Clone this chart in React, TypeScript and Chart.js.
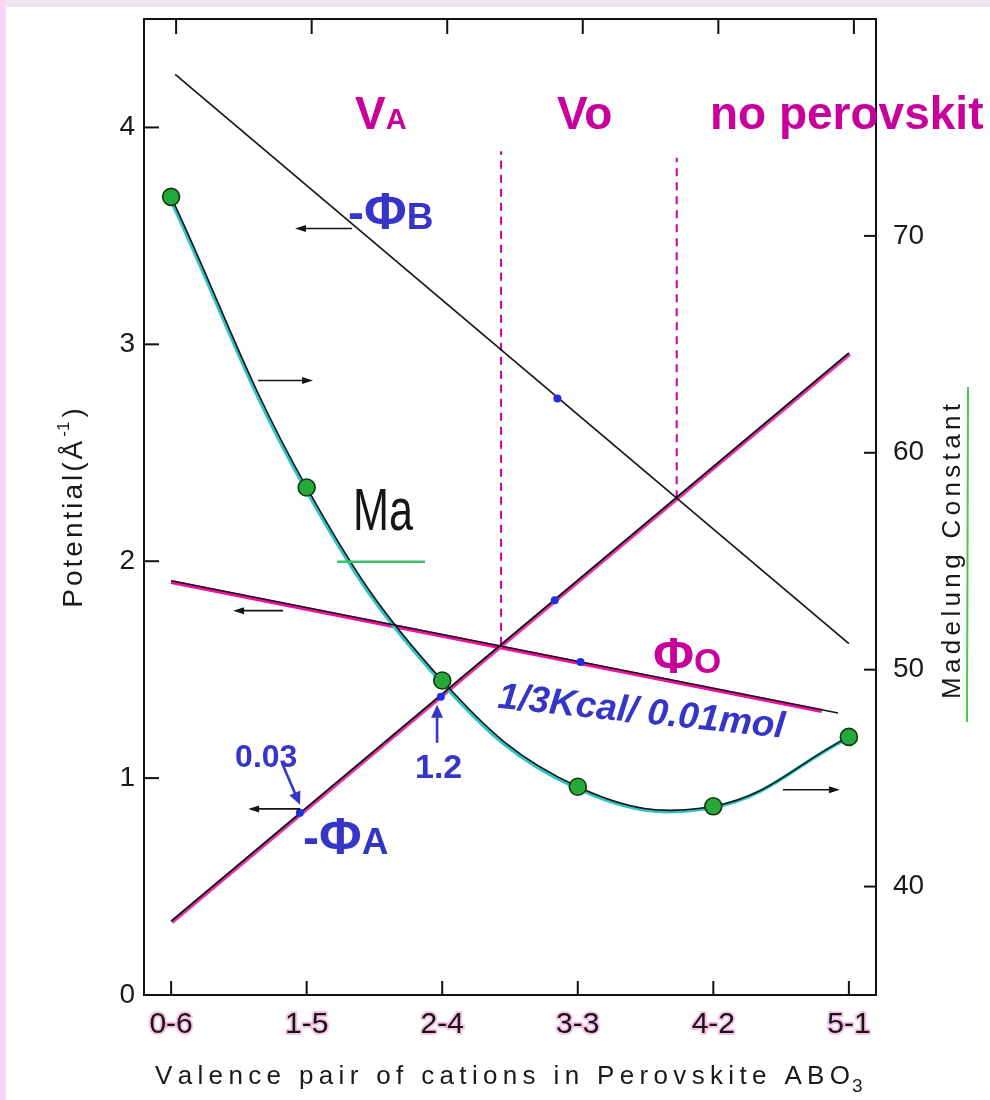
import { useEffect, useRef } from 'react';
import { Chart, registerables } from 'chart.js';

Chart.register(...registerables);

// ---------- data ----------
const categories = ['0-6', '1-5', '2-4', '3-3', '4-2', '5-1'];
const categoryIndex = [0, 1, 2, 3, 4, 5];
const madelungValues = [71.8, 58.4, 49.5, 44.6, 43.7, 46.9];
const leftTicks = [0, 1, 2, 3, 4];
const rightTicks = [40, 50, 60, 70];

const phiBX = [0.03, 5.0];
const phiBY = [4.245, 1.62];
const phiAX = [0, 5.0];
const phiAY = [0.34, 2.96];
const phiOX = [0, 4.92];
const phiOY = [1.91, 1.3];
const phiOPinkX = [0, 4.8];
const phiOPinkY = [1.91, 1.315];

const blueDotX = [0.95, 1.99, 2.83, 2.85, 3.02];
const blueDotY = [0.84, 1.375, 1.82, 2.75, 1.535];

const boundary1X = [2.434, 2.434];
const boundary1Y = [1.615, 3.89];
const boundary2X = [3.73, 3.73];
const boundary2Y = [2.29, 3.86];

// annotation arrows (data units of x / left axis)
const axisArrows = [
  { from: [1.335, 3.534], to: [0.914, 3.534] },
  { from: [0.642, 2.833], to: [1.047, 2.833] },
  { from: [0.826, 1.772], to: [0.457, 1.772] },
  { from: [0.951, 0.858], to: [0.568, 0.858] },
  { from: [4.513, 0.946], to: [4.934, 0.946] },
];
const blueArrows = [
  { from: [0.818, 1.07], to: [0.951, 0.877] },
  { from: [1.962, 1.163], to: [1.962, 1.338] },
];

const MAGENTA = '#c8009c';
const BLUE = '#3535c8';
const SANS = '"Liberation Sans", Arial, sans-serif';

const zip = (xs: number[], ys: number[]) => xs.map((x, i) => ({ x, y: ys[i] }));

type Seg = { text: string; font: string; dy?: number };

function drawSegments(ctx: CanvasRenderingContext2D, segs: Seg[], x: number, y: number, color: string) {
  ctx.fillStyle = color;
  ctx.textBaseline = 'alphabetic';
  ctx.textAlign = 'left';
  let cx = x;
  for (const s of segs) {
    ctx.font = s.font;
    ctx.fillText(s.text, cx, y + (s.dy || 0));
    cx += ctx.measureText(s.text).width;
  }
}

function spacedWidth(ctx: CanvasRenderingContext2D, text: string, sp: number) {
  let w = 0;
  for (const ch of text) w += ctx.measureText(ch).width + sp;
  return w - sp;
}

function drawSpaced(ctx: CanvasRenderingContext2D, text: string, x: number, y: number, sp: number) {
  let cx = x;
  for (const ch of text) {
    ctx.fillText(ch, cx, y);
    cx += ctx.measureText(ch).width + sp;
  }
  return cx;
}

function arrow(ctx: CanvasRenderingContext2D, x1: number, y1: number, x2: number, y2: number, color: string, lw: number, hl: number, hw: number) {
  const ang = Math.atan2(y2 - y1, x2 - x1);
  ctx.strokeStyle = color;
  ctx.fillStyle = color;
  ctx.lineWidth = lw;
  ctx.beginPath();
  ctx.moveTo(x1, y1);
  ctx.lineTo(x2 - Math.cos(ang) * hl * 0.7, y2 - Math.sin(ang) * hl * 0.7);
  ctx.stroke();
  ctx.beginPath();
  ctx.moveTo(x2, y2);
  ctx.lineTo(x2 - Math.cos(ang) * hl - Math.sin(ang) * hw, y2 - Math.sin(ang) * hl + Math.cos(ang) * hw);
  ctx.lineTo(x2 - Math.cos(ang) * hl + Math.sin(ang) * hw, y2 - Math.sin(ang) * hl - Math.cos(ang) * hw);
  ctx.closePath();
  ctx.fill();
}

const backgroundPlugin = {
  id: 'bg',
  beforeDraw(chart: any) {
    const ctx = chart.ctx as CanvasRenderingContext2D;
    ctx.save();
    ctx.fillStyle = '#ffffff';
    ctx.fillRect(0, 0, chart.width, chart.height);
    ctx.fillStyle = '#ebe6ee';
    ctx.fillRect(0, 0, chart.width, 7);
    ctx.fillStyle = '#f6d6f4';
    ctx.fillRect(0, 0, 6, chart.height);
    ctx.restore();
  },
};

// shifts the coloured "highlighter" strokes a little off their black lines, as in the scan
const shiftPlugin = {
  id: 'shift',
  beforeDatasetDraw(chart: any, args: any) {
    const sh = chart.data.datasets[args.index].shift;
    if (!sh) return;
    chart.ctx.save();
    chart.ctx.translate(sh[0], sh[1]);
  },
  afterDatasetDraw(chart: any, args: any) {
    const sh = chart.data.datasets[args.index].shift;
    if (!sh) return;
    chart.ctx.restore();
  },
};

const overlayPlugin = {
  id: 'overlay',
  afterDraw(chart: any) {
    const ctx = chart.ctx as CanvasRenderingContext2D;
    const xs = chart.scales.x;
    const ys = chart.scales.y;
    const y1s = chart.scales.y1;
    const px = (v: number) => xs.getPixelForValue(v);
    const py = (v: number) => ys.getPixelForValue(v);
    const { left, right, top, bottom } = chart.chartArea;
    ctx.save();

    // top frame line
    ctx.strokeStyle = '#111';
    ctx.lineWidth = 2;
    ctx.beginPath();
    ctx.moveTo(left - 1, top);
    ctx.lineTo(right + 1, top);
    ctx.stroke();

    // inward tick marks
    ctx.lineWidth = 2;
    for (const t of leftTicks) {
      if (t === 0) continue;
      ctx.beginPath();
      ctx.moveTo(left, py(t));
      ctx.lineTo(left + 15, py(t));
      ctx.stroke();
    }
    for (const t of rightTicks) {
      const yy = y1s.getPixelForValue(t);
      ctx.beginPath();
      ctx.moveTo(right, yy);
      ctx.lineTo(right - 12, yy);
      ctx.stroke();
    }
    for (const c of categoryIndex) {
      ctx.beginPath();
      ctx.moveTo(px(c), bottom);
      ctx.lineTo(px(c), bottom - 14);
      ctx.moveTo(px(c) + 5, top);
      ctx.lineTo(px(c) + 5, top + 15);
      ctx.stroke();
    }

    // x category labels with pink halo
    ctx.font = `30px ${SANS}`;
    ctx.textAlign = 'center';
    ctx.textBaseline = 'alphabetic';
    ctx.lineJoin = 'round';
    categories.forEach((lab, i) => {
      const x = px(categoryIndex[i]);
      ctx.strokeStyle = 'rgba(240,80,185,0.35)';
      ctx.lineWidth = 4;
      ctx.strokeText(lab, x, 1033);
      ctx.fillStyle = '#151515';
      ctx.fillText(lab, x, 1033);
    });

    // x axis title
    ctx.textAlign = 'left';
    ctx.fillStyle = '#1a1a1a';
    ctx.font = `26px ${SANS}`;
    const xt = 'Valence pair of cations in Perovskite ABO';
    const nat = spacedWidth(ctx, xt, 0);
    const sp = (850 - 155 - nat) / (xt.length - 1);
    const endX = drawSpaced(ctx, xt, 155, 1084, sp);
    ctx.font = `19px ${SANS}`;
    ctx.fillText('3', endX - sp + 2, 1092);

    // left axis title
    ctx.save();
    ctx.translate(82, 508);
    ctx.rotate(-Math.PI / 2);
    ctx.fillStyle = '#1a1a1a';
    const lt1 = 'Potential(Å';
    ctx.font = `28px ${SANS}`;
    const w1 = spacedWidth(ctx, lt1, 3);
    ctx.font = `17px ${SANS}`;
    const w2 = ctx.measureText('-1').width;
    ctx.font = `28px ${SANS}`;
    const w3 = ctx.measureText(')').width;
    const total = w1 + 4 + w2 + 4 + w3;
    let cx = -total / 2;
    cx = drawSpaced(ctx, lt1, cx, 0, 3) + 1;
    ctx.font = `17px ${SANS}`;
    ctx.fillText('-1', cx, -13);
    cx += w2 + 4;
    ctx.font = `28px ${SANS}`;
    ctx.fillText(')', cx, 0);
    ctx.restore();

    // right axis title
    ctx.save();
    ctx.translate(960, 552);
    ctx.rotate(-Math.PI / 2);
    ctx.fillStyle = '#1a1a1a';
    ctx.font = `26px ${SANS}`;
    const rt = 'Madelung Constant';
    const rsp = (295 - spacedWidth(ctx, rt, 0)) / (rt.length - 1);
    drawSpaced(ctx, rt, -147, 0, rsp);
    ctx.restore();
    ctx.strokeStyle = '#49c84a';
    ctx.lineWidth = 2;
    ctx.beginPath();
    ctx.moveTo(968, 387);
    ctx.lineTo(967, 722);
    ctx.stroke();

    // black arrows showing which axis each curve uses
    for (const a of axisArrows) {
      arrow(ctx, px(a.from[0]), py(a.from[1]), px(a.to[0]), py(a.to[1]), '#151515', 1.6, 11, 3.5);
    }
    for (const a of blueArrows) {
      arrow(ctx, px(a.from[0]), py(a.from[1]), px(a.to[0]), py(a.to[1]), BLUE, 2.6, 13, 6);
    }

    // region labels
    const big = `bold 46px ${SANS}`;
    drawSegments(ctx, [{ text: 'V', font: big }, { text: 'A', font: `bold 29px ${SANS}` }], px(1.357), py(3.991), MAGENTA);
    drawSegments(ctx, [{ text: 'Vo', font: big }], px(2.847), py(3.991), MAGENTA);
    drawSegments(ctx, [{ text: 'no perovskit', font: big }], px(3.975), py(3.991), MAGENTA);

    // potential labels
    drawSegments(ctx, [
      { text: '-', font: `bold 48px ${SANS}` },
      { text: 'Φ', font: `bold 52px ${SANS}` },
      { text: 'B', font: `bold 37px ${SANS}` },
    ], px(1.305), py(3.534), BLUE);
    drawSegments(ctx, [
      { text: '-', font: `bold 48px ${SANS}` },
      { text: 'Φ', font: `bold 52px ${SANS}` },
      { text: 'A', font: `bold 37px ${SANS}` },
    ], px(0.973), py(0.651), BLUE);
    drawSegments(ctx, [
      { text: 'Φ', font: `bold 50px ${SANS}` },
      { text: 'O', font: `bold 35px ${SANS}` },
    ], px(3.555), py(1.486), MAGENTA);

    drawSegments(ctx, [{ text: '0.03', font: `bold 32px ${SANS}` }], px(0.472), py(1.052), BLUE);
    drawSegments(ctx, [{ text: '1.2', font: `bold 34px ${SANS}` }], px(1.799), py(1.001), BLUE);

    // rotated energy note
    ctx.save();
    ctx.translate(px(2.404), py(1.324));
    ctx.rotate((6 * Math.PI) / 180);
    drawSegments(ctx, [{ text: '1/3Kcal/ 0.01mol', font: `italic bold 37px ${SANS}` }], 0, 0, BLUE);
    ctx.restore();

    // Ma label with green underline
    ctx.save();
    ctx.translate(px(1.342), py(2.145));
    ctx.scale(0.72, 1);
    drawSegments(ctx, [{ text: 'Ma', font: `60px ${SANS}` }], 0, 0, '#161616');
    ctx.restore();
    ctx.strokeStyle = '#3cbf6a';
    ctx.lineWidth = 2.5;
    ctx.beginPath();
    ctx.moveTo(px(1.224), py(1.998));
    ctx.lineTo(px(1.873), py(1.998));
    ctx.stroke();

    ctx.restore();
  },
};

export default function App() {
  const ref = useRef<HTMLCanvasElement>(null);
  useEffect(() => {
    const canvas = ref.current!;
    const maPts = zip(categoryIndex, madelungValues);
    const chart = new Chart(canvas, {
      type: 'line',
      data: {
        datasets: [
          { label: 'boundary VA/Vo', data: zip(boundary1X, boundary1Y), borderColor: MAGENTA, borderWidth: 2, borderDash: [8, 6], pointRadius: 0, yAxisID: 'y', order: 5 },
          { label: 'boundary Vo/none', data: zip(boundary2X, boundary2Y), borderColor: MAGENTA, borderWidth: 2, borderDash: [8, 6], pointRadius: 0, yAxisID: 'y', order: 5 },
          { label: '-ΦB', data: zip(phiBX, phiBY), borderColor: '#161616', borderWidth: 1.7, pointRadius: 0, yAxisID: 'y', order: 2 },
          { label: '-ΦA pink', data: zip(phiAX, phiAY), borderColor: '#ee30b0', borderWidth: 2.6, pointRadius: 0, yAxisID: 'y', order: 4, shift: [1.2, 1.6] },
          { label: '-ΦA', data: zip(phiAX, phiAY), borderColor: '#111111', borderWidth: 1.9, pointRadius: 0, yAxisID: 'y', order: 2 },
          { label: 'ΦO pink', data: zip(phiOPinkX, phiOPinkY), borderColor: '#f0109f', borderWidth: 4.2, pointRadius: 0, yAxisID: 'y', order: 4, shift: [0, 1.2] },
          { label: 'ΦO', data: zip(phiOX, phiOY), borderColor: '#161616', borderWidth: 1.5, pointRadius: 0, yAxisID: 'y', order: 2 },
          { label: 'Ma cyan', data: maPts, borderColor: '#2cc4c4', borderWidth: 3.6, pointRadius: 0, tension: 0.4, yAxisID: 'y1', order: 3, shift: [-1.2, 1.2] },
          { label: 'Ma', data: maPts, borderColor: '#151515', borderWidth: 1.6, pointRadius: 0, tension: 0.4, yAxisID: 'y1', order: 2 },
          { label: 'Ma points', data: maPts, showLine: false, pointRadius: 8.5, pointBackgroundColor: '#27a83a', pointBorderColor: '#123812', pointBorderWidth: 1.6, yAxisID: 'y1', order: 0 },
          { label: 'calc points', data: zip(blueDotX, blueDotY), showLine: false, pointRadius: 4, pointBackgroundColor: '#1f2fe0', pointBorderColor: '#1f2fe0', pointBorderWidth: 0, yAxisID: 'y', order: 0 },
        ],
      },
      options: {
        responsive: false,
        animation: false,
        events: [],
        layout: { padding: { top: 19, left: 0, right: 0, bottom: 0 } },
        plugins: { legend: { display: false }, tooltip: { enabled: false }, title: { display: false } },
        scales: {
          x: {
            type: 'linear',
            position: 'bottom',
            min: -0.2,
            max: 5.2,
            grid: { display: false, drawTicks: false },
            border: { display: true, color: '#111', width: 2 },
            ticks: { display: false },
            afterBuildTicks: (s: any) => { s.ticks = categoryIndex.map((v) => ({ value: v })); },
            afterFit: (s: any) => { s.height = 105; s.paddingLeft = 0; s.paddingRight = 0; },
          },
          y: {
            type: 'linear',
            position: 'left',
            min: 0,
            max: 4.5,
            grid: { display: false, drawTicks: false },
            border: { display: true, color: '#111', width: 2 },
            ticks: { color: '#1a1a1a', font: { size: 28, family: SANS }, padding: 9 },
            afterBuildTicks: (s: any) => { s.ticks = leftTicks.map((v) => ({ value: v })); },
            afterFit: (s: any) => { s.width = 144; s.paddingTop = 0; s.paddingBottom = 0; },
          },
          y1: {
            type: 'linear',
            position: 'right',
            min: 35,
            max: 80,
            grid: { display: false, drawTicks: false },
            border: { display: true, color: '#111', width: 2 },
            ticks: { color: '#1a1a1a', font: { size: 28, family: SANS }, padding: 17 },
            afterBuildTicks: (s: any) => { s.ticks = rightTicks.map((v) => ({ value: v })); },
            afterFit: (s: any) => { s.width = 114; s.paddingTop = 0; s.paddingBottom = 0; },
          },
        },
      },
      plugins: [backgroundPlugin, shiftPlugin, overlayPlugin],
    } as any);
    return () => chart.destroy();
  }, []);
  return (
    <div style={{ position: 'absolute', left: 0, top: 0, width: 990, height: 1100, overflow: 'hidden' }}>
      <canvas ref={ref} width={990} height={1100} style={{ width: 990, height: 1100, display: 'block' }} />
    </div>
  );
}
